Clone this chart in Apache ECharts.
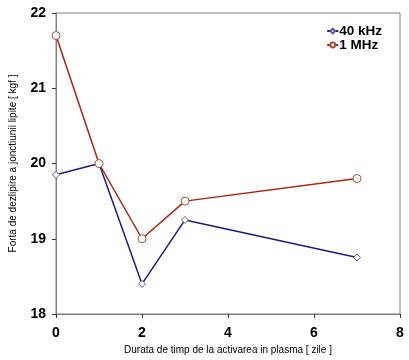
<!DOCTYPE html>
<html><head><meta charset="utf-8">
<script src="https://cdn.jsdelivr.net/npm/echarts@6/dist/echarts.min.js"></script>
<style>html,body{margin:0;padding:0;background:#fff}#c{width:409px;height:360px}</style>
</head><body><div id="c"></div>
<script>
const days = [0, 1, 2, 3, 7];
const s40kHz = [19.85, 20.0, 18.4, 19.25, 18.75];
const s1MHz = [21.7, 20.0, 19.0, 19.5, 19.8];
const seriesNames = ['40 kHz', '1 MHz'];
const xName = 'Durata de timp de la activarea in plasma [ zile ]';
const yName = 'Forta de dezlipire a jonctiunii lipite [ kgf ]';

const chart = echarts.init(document.getElementById('c'));
const axisCol = '#808080';
chart.setOption({
  animation: false,
  textStyle: {fontFamily: 'Liberation Sans, Arial, sans-serif'},
  grid: {left: 53, right: 9, top: 13, bottom: 46, show: true, borderColor: axisCol, borderWidth: 1},
  legend: {
    right: 22, top: 19, orient: 'vertical', itemGap: 0, itemWidth: 11, itemHeight: 6,
    textStyle: {fontSize: 13.5, fontWeight: 'bold', color: '#000', padding: [0, 0, 0, -4]},
    data: seriesNames
  },
  xAxis: {
    type: 'value', min: 0, max: 8, interval: 2,
    name: xName, nameLocation: 'middle', nameGap: 27,
    nameTextStyle: {fontSize: 10, color: '#000'},
    axisLine: {lineStyle: {color: axisCol}},
    axisTick: {show: true, length: 4, lineStyle: {color: '#333'}},
    axisLabel: {fontSize: 14, fontWeight: 'bold', color: '#000', margin: 12},
    splitLine: {show: false}
  },
  yAxis: {
    type: 'value', min: 18, max: 22, interval: 1,
    name: yName, nameLocation: 'middle', nameGap: 38,
    nameTextStyle: {fontSize: 10, color: '#000'},
    axisLine: {show: true, lineStyle: {color: axisCol}},
    axisTick: {show: true, length: 4, lineStyle: {color: '#333'}},
    axisLabel: {fontSize: 14, fontWeight: 'bold', color: '#000', margin: 10},
    splitLine: {show: false}
  },
  series: [
    {name: seriesNames[0], type: 'line', data: days.map((d, i) => [d, s40kHz[i]]),
     symbol: 'diamond', symbolSize: 7, color: '#1c1c80',
     lineStyle: {color: '#1c1c80', width: 1.5},
     itemStyle: {color: '#fff', borderColor: '#5a5aa0', borderWidth: 1}},
    {name: seriesNames[1], type: 'line', data: days.map((d, i) => [d, s1MHz[i]]),
     symbol: 'circle', symbolSize: 8, color: '#a82414',
     lineStyle: {color: '#a82414', width: 1.5},
     itemStyle: {color: '#fff', borderColor: '#a85040', borderWidth: 1}}
  ]
});
</script></body></html>
